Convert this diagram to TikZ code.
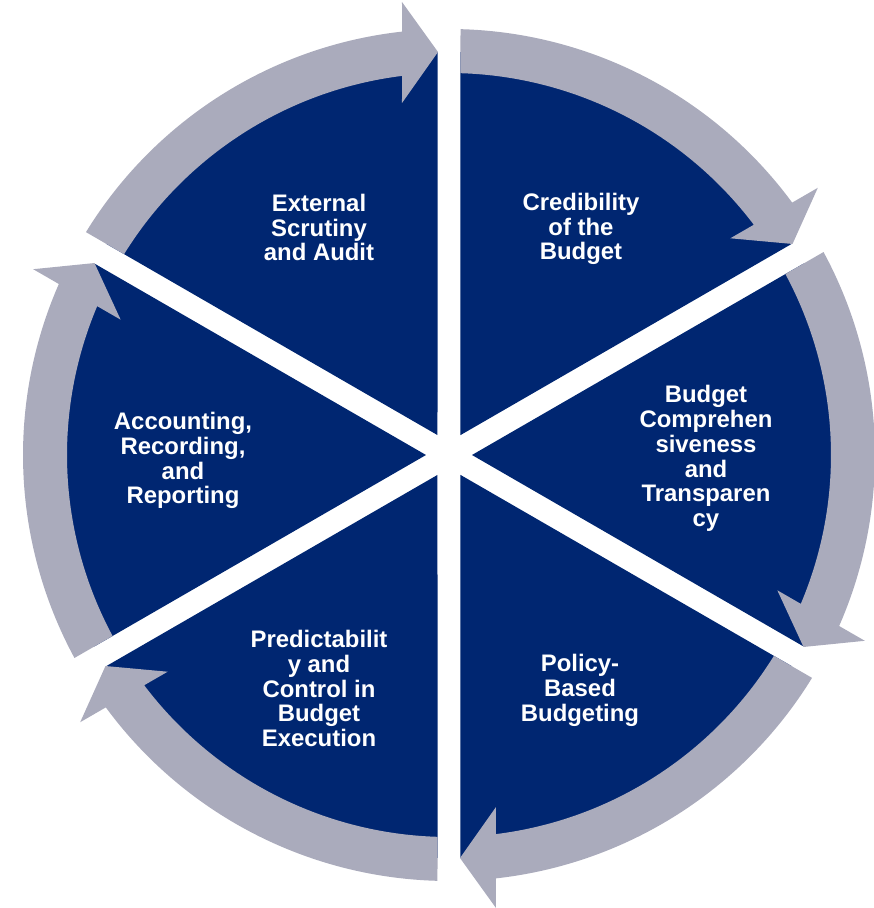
\documentclass[tikz,border=0pt]{standalone}
\usepackage{fontspec}
\setmainfont{Liberation Sans}
\usepackage{tikz}

\definecolor{pfmblue}{RGB}{0,38,113}
\definecolor{pfmgray}{RGB}{170,171,188}

\begin{document}
\begin{tikzpicture}[x=1pt,y=1pt,
  blocktext/.style={text=white,font=\bfseries\fontsize{23.9}{24.8}\selectfont,align=center}]
\useasboundingbox (-449,-453) rectangle (425,455);
% six blocks, each one turned 60 degrees further clockwise
\foreach \k in {0,...,5} {
  \begin{scope}[rotate=-60*\k]
    \fill[pfmblue] (120:23) -- ({90+asin(11.5/403)}:403)
      arc[start angle={90+asin(11.5/403)}, end angle={150-asin(11.5/403)}, radius=403] -- cycle;
    % ring piece with its arrow head
    \fill[pfmgray] ({150-asin(11.5/426)}:426)
      arc[start angle={150-asin(11.5/426)}, end angle={acos(-47/426)}, radius=426]
      -- (-47,453) -- (-11,403) -- (-47,352)
      -- ({acos(-47/382)}:382)
      arc[start angle={acos(-47/382)}, end angle={150-asin(11.5/382)}, radius=382] -- cycle;
  \end{scope}
}
\node[blocktext] (audit) at (-130,227.5) {External\\Scrutiny\\and Audit};
\node[blocktext] (credibility) at (132,226) {Credibility\\of the\\Budget};
\node[blocktext] (transparency) at (257,-3.5) {Budget\\Comprehen\\siveness\\and\\Transparen\\cy};
\node[blocktext] (policy) at (131,-235.5) {Policy-\\Based\\Budgeting};
\node[blocktext] (execution) at (-130,-233.5) {Predictabilit\\y and\\Control in\\Budget\\Execution};
\node[blocktext] (accounting) at (-266,-5.5) {Accounting,\\Recording,\\and\\Reporting};
\end{tikzpicture}
\end{document}
